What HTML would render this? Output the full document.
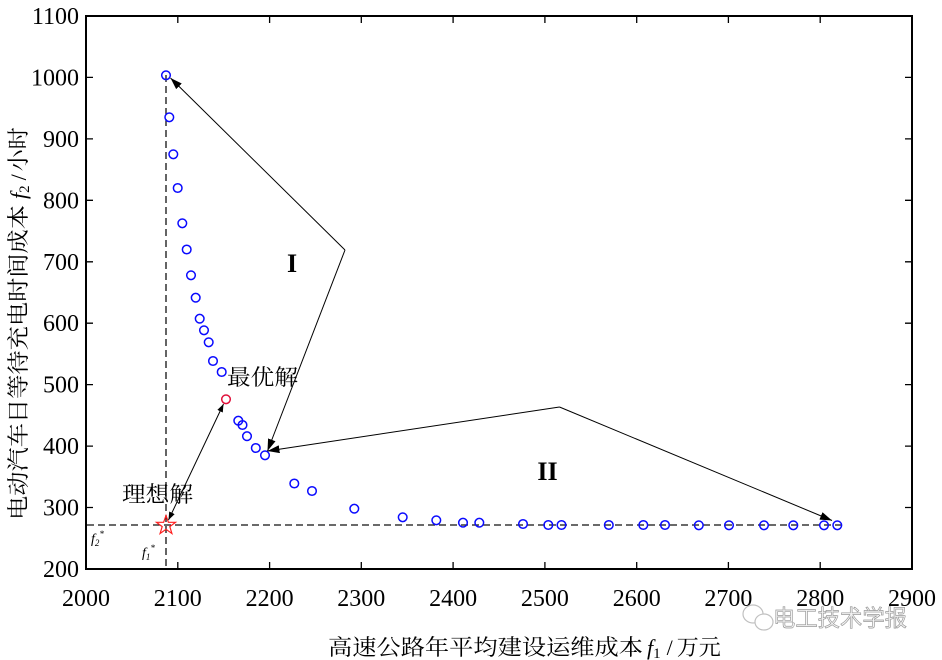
<!DOCTYPE html>
<html><head><meta charset="utf-8"><style>
html,body{margin:0;padding:0;background:#fff;}
svg{display:block;}
.tk{font-family:"Liberation Serif",serif;font-size:24px;fill:#000;}
.cj{font-family:"Liberation Serif","Noto Serif CJK SC",serif;font-size:22px;fill:#000;}
</style></head><body>
<svg width="942" height="660" viewBox="0 0 942 660" xmlns="http://www.w3.org/2000/svg">
<defs>
<marker id="ah" viewBox="0 0 12 8" refX="12" refY="4" markerWidth="12" markerHeight="8" markerUnits="userSpaceOnUse" orient="auto">
<path d="M0,0 L12,4 L0,8 Z" fill="#000"/></marker>
<marker id="as" viewBox="0 0 8 6" refX="8" refY="3" markerWidth="8" markerHeight="6" markerUnits="userSpaceOnUse" orient="auto">
<path d="M0,0 L8,3 L0,6 Z" fill="#000"/></marker>
<marker id="ass" viewBox="0 0 8 6" refX="0" refY="3" markerWidth="8" markerHeight="6" markerUnits="userSpaceOnUse" orient="auto">
<path d="M8,0 L0,3 L8,6 Z" fill="#000"/></marker>
</defs>
<rect width="942" height="660" fill="#fff"/>
<!-- dashed lines -->
<line x1="166" y1="75" x2="166" y2="569" stroke="#111" stroke-width="1.3" stroke-dasharray="7,4"/>
<line x1="87" y1="525" x2="842" y2="525" stroke="#111" stroke-width="1.3" stroke-dasharray="7,4"/>
<!-- axes box -->
<rect x="86" y="16" width="826" height="553" fill="none" stroke="#000" stroke-width="2"/>
<g stroke="#000" stroke-width="1.3">
<path d="M177.8,569v-7M269.6,569v-7M361.3,569v-7M453.1,569v-7M544.9,569v-7M636.7,569v-7M728.4,569v-7M820.2,569v-7
M177.8,16v7M269.6,16v7M361.3,16v7M453.1,16v7M544.9,16v7M636.7,16v7M728.4,16v7M820.2,16v7"/>
<path d="M86,77.4h7M86,138.9h7M86,200.3h7M86,261.8h7M86,323.2h7M86,384.6h7M86,446.1h7M86,507.5h7
M912,77.4h-7M912,138.9h-7M912,200.3h-7M912,261.8h-7M912,323.2h-7M912,384.6h-7M912,446.1h-7M912,507.5h-7"/>
</g>
<g class="tk" text-anchor="end">
<text x="79" y="24">1100</text>
<text x="79" y="85.4">1000</text>
<text x="79" y="146.9">900</text>
<text x="79" y="208.3">800</text>
<text x="79" y="269.8">700</text>
<text x="79" y="331.2">600</text>
<text x="79" y="392.6">500</text>
<text x="79" y="454.1">400</text>
<text x="79" y="515.5">300</text>
<text x="79" y="577">200</text>
</g>
<g class="tk" text-anchor="middle">
<text x="86" y="606">2000</text>
<text x="177.8" y="606">2100</text>
<text x="269.6" y="606">2200</text>
<text x="361.3" y="606">2300</text>
<text x="453.1" y="606">2400</text>
<text x="544.9" y="606">2500</text>
<text x="636.7" y="606">2600</text>
<text x="728.4" y="606">2700</text>
<text x="820.2" y="606">2800</text>
<text x="912" y="606">2900</text>
</g>
<g fill="none" stroke="#0a0aff" stroke-width="1.5">
<circle cx="166" cy="75.3" r="4.3"/><circle cx="169.3" cy="117.3" r="4.3"/><circle cx="173.3" cy="154.3" r="4.3"/>
<circle cx="177.7" cy="188" r="4.3"/><circle cx="182.3" cy="223.3" r="4.3"/><circle cx="186.7" cy="249.5" r="4.3"/>
<circle cx="191" cy="275.3" r="4.3"/><circle cx="195.7" cy="297.7" r="4.3"/><circle cx="199.7" cy="318.7" r="4.3"/>
<circle cx="204" cy="330.3" r="4.3"/><circle cx="208.7" cy="342.3" r="4.3"/><circle cx="213" cy="361" r="4.3"/>
<circle cx="221.7" cy="372" r="4.3"/><circle cx="238.3" cy="420.7" r="4.3"/><circle cx="242.5" cy="425" r="4.3"/>
<circle cx="247" cy="436.2" r="4.3"/><circle cx="255.8" cy="448" r="4.3"/><circle cx="265" cy="455.3" r="4.3"/>
<circle cx="294.3" cy="483.5" r="4.3"/><circle cx="312" cy="491" r="4.3"/><circle cx="354.3" cy="508.7" r="4.3"/>
<circle cx="402.7" cy="517.3" r="4.3"/><circle cx="436.3" cy="520.3" r="4.3"/><circle cx="463" cy="522.7" r="4.3"/>
<circle cx="479.3" cy="522.7" r="4.3"/><circle cx="523" cy="524" r="4.3"/><circle cx="548.3" cy="525" r="4.3"/>
<circle cx="561.5" cy="525" r="4.3"/><circle cx="608.8" cy="525" r="4.3"/><circle cx="643.3" cy="525" r="4.3"/>
<circle cx="665" cy="525" r="4.3"/><circle cx="698.8" cy="525.3" r="4.3"/><circle cx="729" cy="525.3" r="4.3"/>
<circle cx="764" cy="525.3" r="4.3"/><circle cx="793.3" cy="525.3" r="4.3"/><circle cx="824" cy="525.3" r="4.3"/>
<circle cx="837.3" cy="525.3" r="4.3"/>
</g>
<circle cx="226" cy="399.3" r="4.3" fill="none" stroke="#e0103a" stroke-width="1.5"/>
<polygon points="166,515.5 168.4,522.3 175.5,522.3 169.8,526.6 171.9,533.5 166,529.3 160.1,533.5 162.2,526.6 156.5,522.3 163.6,522.3" fill="none" stroke="#ff2020" stroke-width="1.2"/>
<g stroke="#000" stroke-width="1" fill="none">
<polyline points="345,250 170.5,78" marker-end="url(#ah)"/>
<polyline points="345,250 267.5,451" marker-end="url(#ah)"/>
<polyline points="559.5,407 267.5,451" marker-end="url(#ah)"/>
<polyline points="559.5,407 832,520.5" marker-end="url(#ah)"/>
<line x1="168.5" y1="520" x2="223.5" y2="404" marker-start="url(#ass)" marker-end="url(#as)"/>
</g>
<text class="cj" x="227" y="385" textLength="71" lengthAdjust="spacingAndGlyphs" font-size="23">最优解</text>
<text class="cj" x="122" y="502" textLength="71" lengthAdjust="spacingAndGlyphs" font-size="23">理想解</text>
<text x="292" y="272" text-anchor="middle" font-family="Liberation Serif,serif" font-weight="bold" font-size="26">I</text>
<text x="547.5" y="480" text-anchor="middle" font-family="Liberation Serif,serif" font-weight="bold" font-size="26">II</text>
<text x="91" y="543" font-family="Liberation Serif,serif" font-style="italic" font-size="14">f<tspan font-size="9" dy="3">2</tspan><tspan font-size="9" dy="-9">*</tspan></text>
<text x="142" y="557" font-family="Liberation Serif,serif" font-style="italic" font-size="14">f<tspan font-size="9" dy="3">1</tspan><tspan font-size="9" dy="-9">*</tspan></text>
<text class="cj" x="328" y="655" font-size="22"><tspan textLength="315" lengthAdjust="spacingAndGlyphs">高速公路年平均建设运维成本</tspan><tspan font-family="Liberation Serif,serif" font-style="italic" dx="4">f</tspan><tspan font-family="Liberation Serif,serif" font-size="15" dy="3">1</tspan><tspan font-family="Liberation Serif,serif" dy="-3" dx="6">/</tspan><tspan dx="4">万元</tspan></text>
<g transform="translate(26,520) rotate(-90)">
<text class="cj" x="0" y="0" font-size="22"><tspan textLength="315" lengthAdjust="spacingAndGlyphs">电动汽车日等待充电时间成本</tspan><tspan font-family="Liberation Serif,serif" font-style="italic" dx="6">f</tspan><tspan font-family="Liberation Serif,serif" font-size="15" dy="3">2</tspan><tspan font-family="Liberation Serif,serif" dy="-3" dx="5">/</tspan><tspan dx="3">小时</tspan></text>
</g>
<g fill="none" stroke="#c0c0c0" stroke-width="1.2">
<ellipse cx="753" cy="614" rx="10" ry="9"/>
<ellipse cx="764" cy="622" rx="9" ry="8" fill="#fff"/>
</g>
<text x="773" y="626" font-family="Liberation Sans,'Noto Sans CJK SC',sans-serif" font-size="23" fill="#f4f4f4" stroke="#9a9a9a" stroke-width="0.7" textLength="134" lengthAdjust="spacingAndGlyphs">电工技术学报</text>
</svg>
</body></html>
